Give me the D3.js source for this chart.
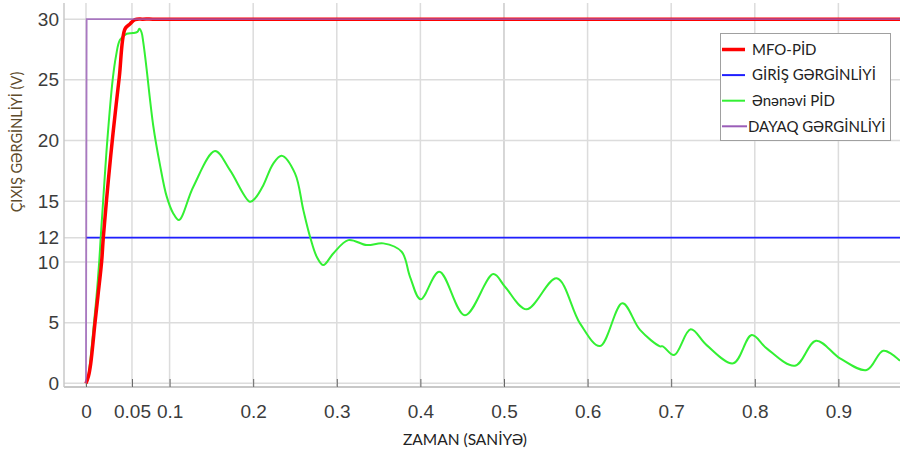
<!DOCTYPE html>
<html>
<head>
<meta charset="utf-8">
<script src="https://cdn.jsdelivr.net/npm/d3@7"></script>
<style>
  html, body { margin: 0; padding: 0; background: #fff; }
  svg { display: block; }
</style>
</head>
<body>
<svg id="chart" width="903" height="452"></svg>
<script>
// ---- data ----
const xTickValues = [0, 0.055, 0.1, 0.2, 0.3, 0.4, 0.5, 0.6, 0.7, 0.8, 0.9];
const xTickLabels = ["0", "0.05", "0.1", "0.2", "0.3", "0.4", "0.5", "0.6", "0.7", "0.8", "0.9"];
const yTickValues = [0, 5, 10, 12, 15, 20, 25, 30];

const seriesNames = ["MFO-PİD", "GİRİŞ GƏRGİNLİYİ", "Ənənəvi PİD", "DAYAQ GƏRGİNLİYİ"];

// MFO-PİD (t, V)
const mfoPid = [
  [0, 0], [0.003, 0.6], [0.0056, 1.6], [0.0108, 5], [0.0143, 7.2], [0.0188, 10.1],
  [0.0207, 12], [0.0267, 16.7], [0.0325, 20.7], [0.0398, 25.2], [0.0467, 29.2],
  [0.0526, 29.6], [0.0586, 29.96], [0.068, 30], [0.08, 30], [0.1, 30], [0.9737, 30]
];
// GİRİŞ GƏRGİNLİYİ
const girisGerginliyi = [[0, 12], [0.9737, 12]];
// Ənənəvi PİD
const enenaviPid = [
  [0, 0], [0.002, 0.3], [0.005, 1.8], [0.0096, 5], [0.013, 7.5], [0.0159, 10.1],
  [0.0176, 12], [0.0205, 15], [0.0255, 20], [0.0319, 25], [0.036, 27], [0.0407, 28.3],
  [0.0487, 28.8], [0.056, 28.85], [0.0615, 28.95], [0.0638, 29.2], [0.0665, 28.9],
  [0.0685, 28.1], [0.0706, 27.0], [0.0725, 25.9], [0.0805, 21.2], [0.0885, 18.0],
  [0.0965, 15.4], [0.1044, 14.0], [0.1112, 13.45], [0.1284, 16.2], [0.1543, 19.13], [0.1722, 17.57],
  [0.1962, 14.96], [0.203, 15.3], [0.212, 16.3], [0.224, 18.1], [0.234, 18.75], [0.25, 17.3], [0.26, 14.27],
  [0.268, 12.08], [0.276, 10.43], [0.2839, 9.74], [0.2958, 10.7], [0.3138, 11.8],
  [0.3358, 11.39], [0.3557, 11.53], [0.3776, 10.84], [0.3876, 8.78], [0.4003, 6.92],
  [0.4226, 9.2], [0.4533, 5.6], [0.4872, 9.0], [0.5012, 7.96], [0.527, 6.1],
  [0.563, 8.65], [0.5909, 4.94], [0.6148, 3.07], [0.6416, 6.59], [0.6627, 4.4],
  [0.6866, 3.05], [0.69, 3.05], [0.7035, 2.33], [0.7233, 4.45], [0.7424, 3.15],
  [0.7743, 1.65], [0.7963, 3.98], [0.8142, 2.88], [0.8481, 1.45], [0.8732, 3.51],
  [0.9019, 2.06], [0.9338, 1.1], [0.9537, 2.69], [0.9737, 1.86]
];
// DAYAQ GƏRGİNLİYİ
const dayaqGerginliyi = [[0, 0], [0.0008, 30], [0.9737, 30]];

// ---- layout ----
const svg = d3.select("#chart");
const plot = { left: 64, right: 900, top: 3, bottom: 387 };

const x = d3.scaleLinear().domain([-0.0263, 0.9737]).range([plot.left, plot.right]);
const y = d3.scaleLinear().domain([-0.3, 31.33]).range([plot.bottom, plot.top]);

svg.append("defs").append("clipPath").attr("id", "clip")
  .append("rect").attr("x", plot.left).attr("y", plot.top)
  .attr("width", plot.right - plot.left).attr("height", plot.bottom - plot.top);

// grid
const grid = svg.append("g");
grid.selectAll("line.v").data(xTickValues).join("line")
  .attr("x1", d => x(d)).attr("x2", d => x(d))
  .attr("y1", plot.top).attr("y2", plot.bottom)
  .attr("stroke", d => d === 0.5 ? "#bcbcbc" : "#dcdcdc").attr("stroke-width", d => d === 0.5 ? 1.2 : 1.5);
grid.selectAll("line.h").data(yTickValues).join("line")
  .attr("x1", plot.left).attr("x2", plot.right)
  .attr("y1", d => y(d)).attr("y2", d => y(d))
  .attr("stroke", "#dcdcdc").attr("stroke-width", 1.5);

// axes lines
svg.append("line").attr("x1", plot.left).attr("x2", plot.left)
  .attr("y1", plot.top).attr("y2", plot.bottom).attr("stroke", "#c8c8c8").attr("stroke-width", 1.5);
svg.append("line").attr("x1", plot.left).attr("x2", plot.right)
  .attr("y1", plot.bottom).attr("y2", plot.bottom).attr("stroke", "#c8c8c8").attr("stroke-width", 2);

// x axis
const xAxis = d3.axisBottom(x).tickValues(xTickValues)
  .tickFormat((d, i) => xTickLabels[i]).tickSizeInner(-8).tickSizeOuter(0).tickPadding(18);
const gx = svg.append("g").attr("transform", `translate(0,${plot.bottom})`).call(xAxis);
gx.select(".domain").remove();
gx.selectAll(".tick line").attr("stroke", "#666").attr("stroke-width", 1);
gx.selectAll(".tick text").attr("fill", "#3c3c3c")
  .style("font-family", "'Liberation Sans', Arial, sans-serif").style("font-size", "19px");

// y axis
const yAxis = d3.axisLeft(y).tickValues(yTickValues).tickSizeInner(0).tickSizeOuter(0).tickPadding(5);
const gy = svg.append("g").attr("transform", `translate(${plot.left},0)`).call(yAxis);
gy.select(".domain").remove();
gy.selectAll(".tick text").attr("fill", "#3c3c3c")
  .style("font-family", "'Liberation Sans', Arial, sans-serif").style("font-size", "19px");

// titles
svg.append("text").attr("x", 465).attr("y", 445).attr("text-anchor", "middle")
  .style("font-family", "Lato, 'Open Sans', sans-serif").style("font-size", "15.5px")
  .attr("fill", "#222").text("ZAMAN (SANİYƏ)");
svg.append("text").attr("transform", "translate(22,142) rotate(-90)").attr("text-anchor", "middle")
  .style("font-family", "Lato, 'Open Sans', sans-serif").style("font-size", "14.5px")
  .attr("fill", "#5e4b2b").text("ÇIXIŞ GƏRGİNLİYİ (V)");

// lines
const line = d3.line().x(d => x(d[0])).y(d => y(d[1])).curve(d3.curveCatmullRom.alpha(0.5));
const lineLin = d3.line().x(d => x(d[0])).y(d => y(d[1]));
const lines = svg.append("g").attr("clip-path", "url(#clip)");
lines.append("path").datum(girisGerginliyi).attr("d", lineLin)
  .attr("fill", "none").attr("stroke", "#1f1fff").attr("stroke-width", 1.6);
lines.append("path").datum(enenaviPid).attr("d", line)
  .attr("fill", "none").attr("stroke", "#33f033").attr("stroke-width", 2);
lines.append("path").datum(mfoPid).attr("d", line)
  .attr("fill", "none").attr("stroke", "#ff0000").attr("stroke-width", 3.5);
lines.append("path").datum(dayaqGerginliyi).attr("d", lineLin)
  .attr("fill", "none").attr("stroke", "#9a5db8").attr("stroke-width", 1.8).attr("stroke-opacity", 0.8);

// legend
const colors = ["#ff0000", "#1f1fff", "#33f033", "#9a5db8"];
const widths = [3.5, 2, 2, 2];
const lg = svg.append("g");
lg.append("rect").attr("x", 720.5).attr("y", 33.5).attr("width", 170).attr("height", 107)
  .attr("fill", "#fff").attr("stroke", "#a0a0a0").attr("stroke-width", 1);
seriesNames.forEach((name, i) => {
  const cy = 49.5 + i * 25.6;
  lg.append("line").attr("x1", 722).attr("x2", i === 3 ? 747 : 745)
    .attr("y1", cy).attr("y2", cy).attr("stroke", colors[i]).attr("stroke-width", widths[i]);
  lg.append("text").attr("x", i === 3 ? 748 : 752).attr("y", cy).attr("dy", "0.35em")
    .style("font-family", "Lato, 'Open Sans', sans-serif").style("font-size", "15px")
    .attr("fill", "#222").text(name);
});
</script>
</body>
</html>
